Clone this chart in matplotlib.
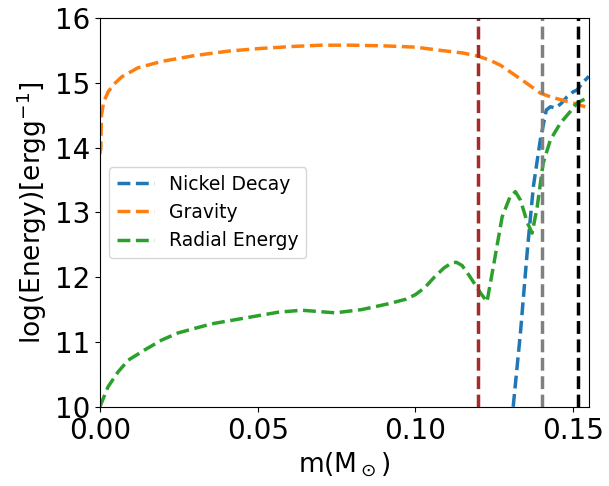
import matplotlib
matplotlib.use("Agg")
import matplotlib.pyplot as plt

# Gravity
grav_m = [0.0, 0.0003, 0.0005, 0.0012, 0.0026, 0.0045, 0.0069, 0.012, 0.0196,
          0.030, 0.041, 0.051, 0.061, 0.070, 0.080, 0.090, 0.100, 0.108, 0.115,
          0.120, 0.124, 0.127, 0.130, 0.133, 0.1365, 0.1396, 0.143, 0.146,
          0.1513, 0.155]
grav_e = [13.9, 13.99, 14.5, 14.7, 14.86, 14.98, 15.09, 15.23, 15.33,
          15.42, 15.49, 15.53, 15.56, 15.58, 15.58, 15.57, 15.55, 15.5, 15.46,
          15.41, 15.34, 15.27, 15.17, 15.07, 14.95, 14.84, 14.78, 14.74,
          14.67, 14.61]

# Nickel decay
ni_m = [0.131, 0.1333, 0.1355, 0.1374, 0.1396, 0.1415, 0.1428, 0.1444,
        0.1462, 0.148, 0.150, 0.1513, 0.153, 0.155]
ni_e = [10.0, 11.14, 12.42, 13.4, 14.12, 14.58, 14.63, 14.61,
        14.68, 14.78, 14.86, 14.89, 15.0, 15.1]

# Radial energy
rad_m = [0.0, 0.0026, 0.0058, 0.009, 0.0143, 0.0196, 0.0248, 0.0354, 0.046,
         0.0566, 0.064, 0.0746, 0.083, 0.0915, 0.097, 0.100, 0.103, 0.106,
         0.109, 0.1115, 0.113, 0.1148, 0.117, 0.119, 0.1206, 0.1227, 0.1247,
         0.1275, 0.130, 0.1317, 0.1333, 0.1355, 0.137, 0.1386, 0.1405, 0.1428,
         0.146, 0.149, 0.1513, 0.155]
rad_e = [10.0, 10.31, 10.54, 10.72, 10.88, 11.03, 11.14, 11.28, 11.37,
         11.46, 11.49, 11.45, 11.5, 11.59, 11.66, 11.73, 11.84, 12.0,
         12.14, 12.22, 12.23, 12.18, 12.03, 11.88, 11.76, 11.62, 12.16,
         12.93, 13.24, 13.32, 13.19, 12.84, 12.68, 13.08, 13.76, 14.12,
         14.38, 14.55, 14.69, 14.78]

vlines = [0.120, 0.140, 0.1515]
vline_colors = ["brown", "gray", "black"]

fig = plt.figure(figsize=(6.09, 4.86), dpi=100)
ax = fig.add_axes([0.164, 0.163, 0.803, 0.800])

ax.plot(ni_m, ni_e, "--", color="tab:blue", lw=2.5, label="Nickel Decay")
ax.plot(grav_m, grav_e, "--", color="tab:orange", lw=2.5, label="Gravity")
ax.plot(rad_m, rad_e, "--", color="tab:green", lw=2.5, label="Radial Energy")
for xv, c in zip(vlines, vline_colors):
    ax.axvline(xv, color=c, ls="--", lw=2.5)

ax.set_xlim(0, 0.155)
ax.set_ylim(10, 16)
ax.set_xticks([0.0, 0.05, 0.10, 0.15])
ax.set_yticks([10, 11, 12, 13, 14, 15, 16])
ax.tick_params(labelsize=20)
ax.set_xlabel(r"m(M$_\odot$)", fontsize=19)
ax.set_ylabel(r"log(Energy)[ergg$^{-1}$]", fontsize=19)
ax.legend(loc="center left", bbox_to_anchor=(0.0, 0.5), fontsize=13.5)

fig.savefig("out.png", dpi=100)
